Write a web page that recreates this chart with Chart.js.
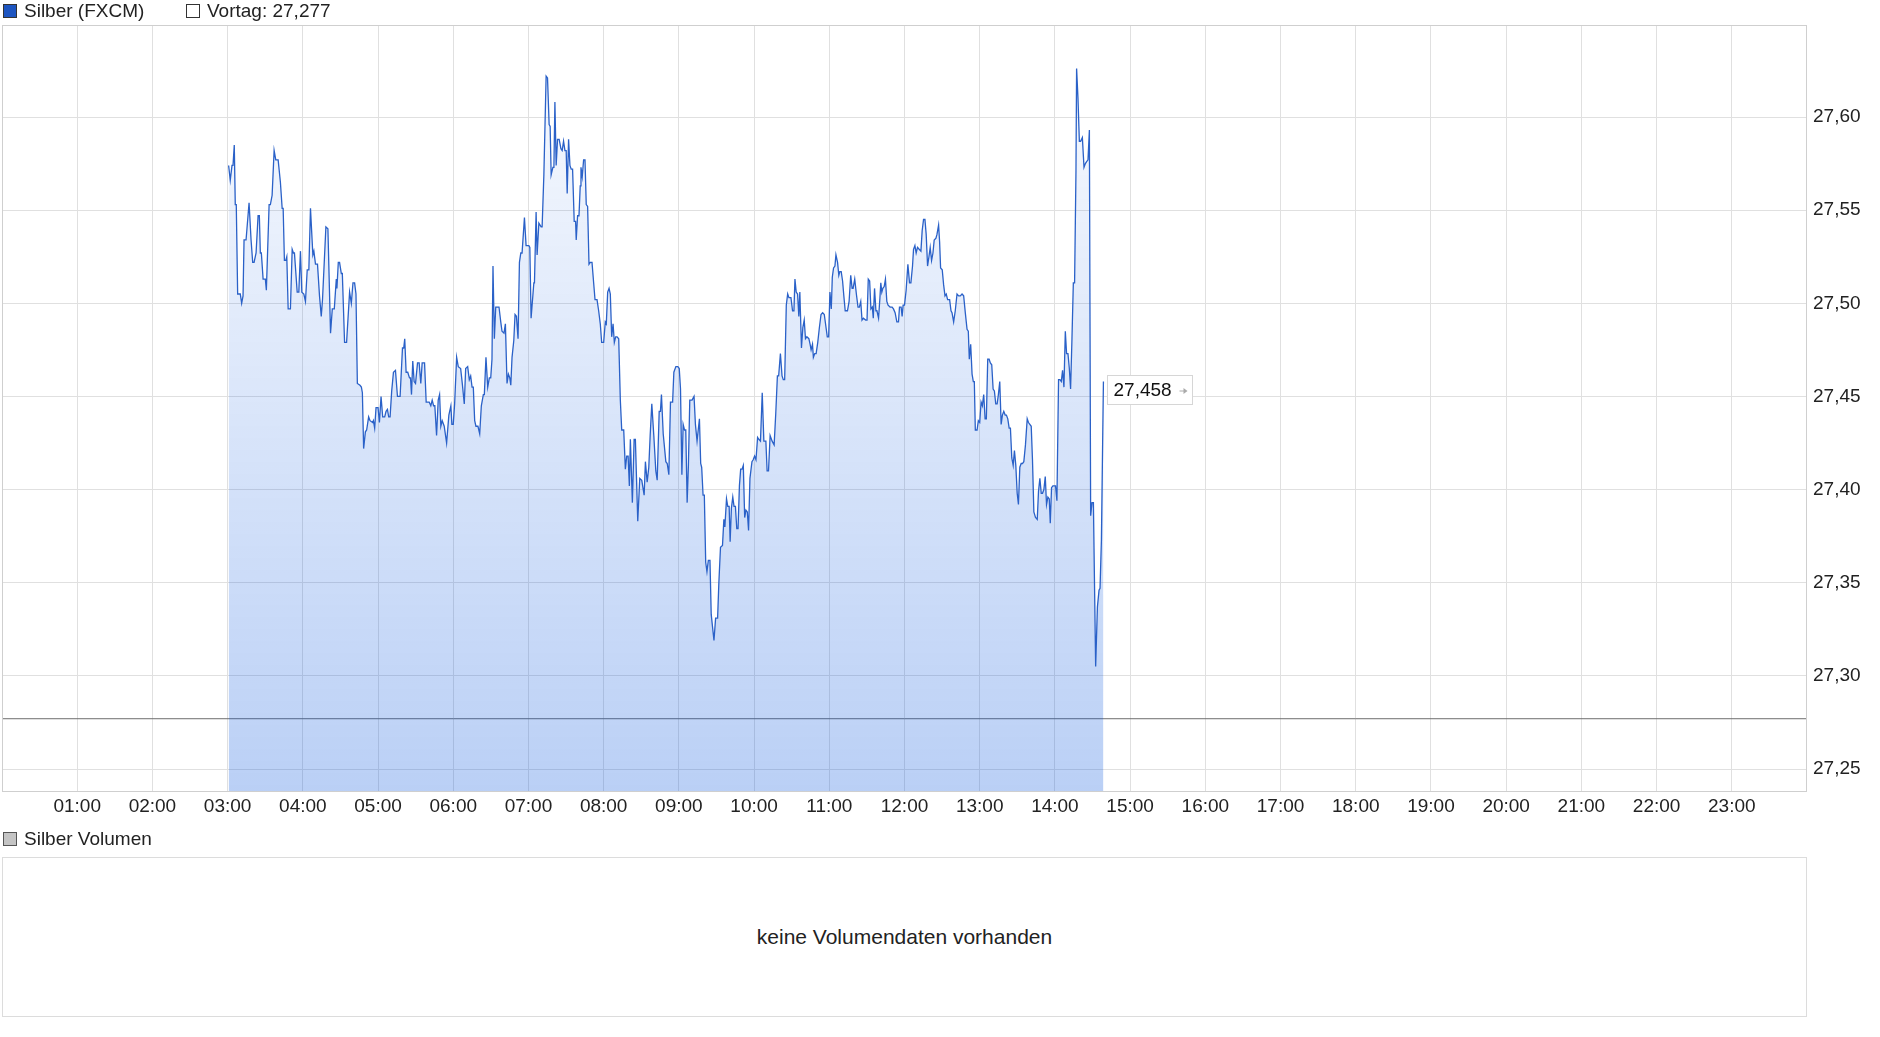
<!DOCTYPE html>
<html>
<head>
<meta charset="utf-8">
<title>Silber (FXCM)</title>
<script src="https://cdn.jsdelivr.net/npm/chart.js@4.4.1/dist/chart.umd.min.js"></script>
<style>
  body { margin: 0; background: #fff; font-family: "Liberation Sans", Arial, sans-serif; color: #222; }
  #wrap { position: relative; width: 1880px; height: 1037px; overflow: hidden; }
  #chartCanvas { position: absolute; left: 0; top: 0; }
  .legend { position: absolute; font-size: 19px; line-height: 22px; white-space: nowrap; }
  .sq { position: absolute; width: 12px; height: 12px; border: 1px solid #333; }
  #volBox { position: absolute; left: 2px; top: 857px; width: 1805px; height: 160px; border: 1px solid #dcdcdc; box-sizing: border-box; }
  #volText { position: absolute; left: 0; right: 0; top: 67px; text-align: center; font-size: 21px; line-height: 24px; }
</style>
</head>
<body>
<div id="wrap">
  <canvas id="chartCanvas" width="1880" height="830"></canvas>

  <div class="sq" style="left:3px; top:4px; background:#1d55c0;"></div>
  <div class="legend" style="left:24px; top:0px;">Silber (FXCM)</div>
  <div class="sq" style="left:186px; top:4px; background:#fff;"></div>
  <div class="legend" style="left:207px; top:0px;">Vortag: 27,277</div>

  <div class="sq" style="left:3px; top:832px; background:#c4c4c4; border-color:#555;"></div>
  <div class="legend" style="left:24px; top:828px;">Silber Volumen</div>
  <div id="volBox"><div id="volText">keine Volumendaten vorhanden</div></div>
</div>

<script>
/********** DATEN **********/
// Zeitpunkte in Minuten seit Mitternacht
const minutes = [
  180.8,182.1,183.5,184.3,185.3,186.1,186.9,188.0,190.1,191.2,192.3,193.1,194.7,197.1,198.7,200.0,201.1,202.7,204.3,205.3,
  206.1,206.9,208.3,210.1,210.9,213.1,214.1,215.5,217.1,218.4,220.3,222.1,223.5,224.3,225.3,226.4,227.2,228.3,230.1,231.5,
  232.5,233.3,235.5,236.8,238.1,239.2,240.8,242.1,243.5,244.8,246.1,248.0,248.8,250.1,251.7,253.3,254.7,255.7,258.4,260.0,
  262.1,263.5,265.1,266.7,267.2,268.3,269.3,270.7,271.5,273.3,274.9,277.3,278.7,280.0,281.3,282.4,283.5,285.6,286.7,287.5,
  288.5,289.9,290.9,292.5,293.6,295.7,296.3,297.3,298.4,300.0,301.1,302.4,303.7,305.3,306.4,307.5,308.5,309.6,310.9,312.3,
  313.9,315.5,317.6,319.5,320.5,321.3,322.4,323.7,325.1,325.9,326.7,327.7,328.8,329.9,331.5,332.8,334.1,335.2,337.1,338.4,
  340.8,342.1,343.2,344.3,345.3,346.7,348.0,349.1,350.1,351.2,352.8,354.7,356.5,358.1,
  358.9,360.0,361.1,362.7,364.0,365.9,367.2,368.8,369.9,371.5,372.8,373.9,375.0,376.0,377.1,378.1,379.7,381.1,382.4,384.0,
  384.8,386.1,387.5,388.8,389.9,390.9,391.7,392.8,393.9,396.5,397.9,398.9,400.5,401.6,402.9,404.0,405.1,405.9,406.9,408.3,
  409.3,410.4,411.7,412.8,413.9,414.9,416.8,418.1,420.3,421.1,422.1,424.3,424.8,426.1,426.9,428.3,430.1,430.9,432.3,434.1,
  435.2,436.5,437.3,438.1,439.5,440.3,441.1,442.1,443.2,444.5,445.9,446.9,448.0,449.1,450.1,450.9,452.0,453.1,454.1,455.2,
  456.5,457.6,458.1,459.2,460.3,461.3,461.9,462.9,464.0,465.1,466.1,467.2,468.3,469.3,470.7,472.0,473.1,474.7,476.0,477.3,
  478.4,480.0,481.3,482.1,483.2,484.3,485.3,486.4,487.5,488.5,489.6,490.7,492.0,493.3,494.4,496.0,497.3,498.4,499.5,500.5,
  501.3,502.9,504.3,505.3,507.2,508.8,510.4,512.3,513.3,514.7,516.0,517.1,518.4,520.0,521.6,522.7,524.3,525.3,526.1,527.5,
  529.6,530.7,532.0,533.3,
  535.0,536.0,537.6,539.2,540.3,541.3,542.4,543.4,544.5,545.5,546.6,547.6,548.7,550.5,552.1,553.2,554.5,556.4,557.4,558.2,
  559.3,560.3,561.4,562.4,563.5,564.8,565.8,568.0,569.3,570.9,571.9,573.2,574.8,575.9,576.7,578.0,579.0,580.1,580.9,581.9,
  583.0,584.0,585.1,586.2,587.2,588.3,589.3,590.4,591.4,592.5,593.5,594.6,595.6,596.7,598.3,599.3,600.4,601.5,602.8,603.8,
  605.1,606.5,607.8,609.4,610.4,611.5,612.8,614.4,616.0,617.3,618.6,619.6,621.0,622.3,623.3,624.4,625.7,626.8,627.8,629.4,
  630.7,631.8,632.6,633.6,634.7,635.7,636.5,637.8,638.9,640.0,641.0,642.1,643.7,644.7,645.5,646.6,647.3,648.4,649.5,650.8,
  652.1,653.4,654.7,656.0,657.4,658.4,659.5,660.5,661.6,662.4,663.4,664.5,665.3,666.6,667.6,668.4,669.5,670.6,671.6,672.7,
  674.5,675.8,677.1,678.2,679.0,680.3,681.6,682.9,684.0,685.1,686.1,687.2,689.0,690.1,691.1,692.2,693.2,694.3,695.1,696.1,
  697.2,698.0,699.3,700.4,701.1,701.9,702.7,703.8,704.8,705.9,706.9,
  708.5,710.1,711.2,712.5,713.9,715.2,716.0,717.3,718.1,718.9,720.0,721.3,722.7,724.0,725.1,726.4,727.2,728.3,729.3,730.4,
  731.7,733.1,734.1,735.2,736.3,737.3,738.4,739.5,740.5,741.6,742.7,743.7,745.1,745.9,747.2,748.0,748.8,750.1,751.2,752.3,
  753.3,754.4,756.0,757.1,757.9,759.2,760.5,761.9,763.2,764.5,765.9,767.2,768.5,769.9,770.9,771.7,772.8,773.9,774.9,775.7,
  776.5,777.9,778.9,780.0,781.1,782.1,783.2,784.3,785.3,786.4,787.5,788.5,789.6,790.7,791.7,792.8,793.9,794.9,796.0,797.1,
  798.1,799.2,800.3,801.3,802.4,803.5,804.5,805.6,806.7,807.7,808.8,809.9,810.9,812.0,813.1,814.1,815.2,816.5,817.9,818.9,
  820.0,821.1,822.1,823.2,824.5,825.9,826.9,828.0,829.1,830.1,831.2,832.3,833.3,834.4,835.5,836.3,837.3,838.4,839.5,840.5,
  841.6,842.9,844.0,845.1,846.1,847.2,848.3,849.3,850.4,851.5,852.5,853.6,854.7,855.7,856.8,857.3,858.4,859.5,860.5,861.9,
  863.2,864.3,865.3,866.4,867.5,868.5,869.6,870.7,871.7,872.5,873.9,875.2,876.0,877.1,878.7
];

// Kurs Silber (FXCM)
const prices = [
  27.574,27.566,27.574,27.574,27.585,27.553,27.553,27.505,27.505,27.500,27.504,27.534,27.534,27.554,27.534,27.522,27.522,27.527,27.547,27.547,
  27.527,27.527,27.513,27.513,27.507,27.553,27.553,27.558,27.582,27.577,27.577,27.565,27.551,27.551,27.523,27.523,27.525,27.497,27.497,27.529,
  27.527,27.527,27.506,27.506,27.528,27.506,27.505,27.501,27.518,27.518,27.551,27.526,27.528,27.521,27.521,27.504,27.493,27.502,27.541,27.540,
  27.484,27.497,27.497,27.513,27.508,27.522,27.522,27.516,27.516,27.479,27.479,27.506,27.500,27.511,27.511,27.505,27.457,27.456,27.455,27.452,
  27.422,27.431,27.432,27.439,27.437,27.436,27.437,27.433,27.444,27.444,27.436,27.450,27.439,27.439,27.442,27.443,27.439,27.439,27.453,27.463,
  27.464,27.450,27.450,27.476,27.476,27.481,27.463,27.463,27.460,27.460,27.451,27.469,27.458,27.457,27.468,27.468,27.457,27.468,27.468,27.447,
  27.447,27.445,27.448,27.445,27.445,27.429,27.448,27.451,27.434,27.437,27.434,27.425,27.440,27.445,
  27.435,27.435,27.446,27.471,27.466,27.465,27.457,27.446,27.465,27.466,27.459,27.461,27.455,27.455,27.437,27.434,27.434,27.430,27.445,27.451,
  27.451,27.471,27.455,27.460,27.460,27.470,27.520,27.481,27.498,27.498,27.490,27.485,27.484,27.489,27.457,27.462,27.460,27.456,27.471,27.480,
  27.494,27.493,27.481,27.522,27.527,27.527,27.546,27.531,27.531,27.530,27.492,27.511,27.511,27.549,27.526,27.543,27.541,27.541,27.569,27.622,
  27.621,27.596,27.595,27.569,27.573,27.573,27.608,27.574,27.588,27.588,27.583,27.582,27.587,27.582,27.582,27.559,27.588,27.574,27.572,27.572,
  27.544,27.544,27.534,27.547,27.547,27.563,27.573,27.568,27.577,27.577,27.553,27.552,27.521,27.522,27.522,27.511,27.502,27.502,27.496,27.489,
  27.479,27.479,27.490,27.489,27.506,27.508,27.505,27.482,27.489,27.479,27.482,27.482,27.481,27.448,27.432,27.432,27.411,27.418,27.418,27.402,
  27.427,27.393,27.427,27.427,27.383,27.406,27.405,27.397,27.415,27.404,27.412,27.429,27.446,27.429,27.410,27.405,27.442,27.442,27.451,27.430,
  27.415,27.414,27.408,27.447,
  27.447,27.463,27.466,27.466,27.465,27.454,27.408,27.435,27.432,27.432,27.393,27.413,27.448,27.448,27.450,27.435,27.426,27.438,27.414,27.412,
  27.397,27.397,27.361,27.356,27.362,27.362,27.333,27.319,27.331,27.331,27.350,27.369,27.370,27.384,27.380,27.395,27.391,27.391,27.372,27.390,
  27.396,27.391,27.391,27.379,27.379,27.402,27.411,27.411,27.413,27.385,27.389,27.388,27.378,27.406,27.415,27.416,27.418,27.416,27.428,27.427,
  27.426,27.452,27.426,27.426,27.410,27.410,27.429,27.426,27.424,27.441,27.461,27.461,27.473,27.461,27.459,27.459,27.499,27.505,27.503,27.503,
  27.496,27.496,27.513,27.506,27.505,27.493,27.506,27.476,27.487,27.491,27.481,27.482,27.481,27.478,27.475,27.478,27.471,27.473,27.473,27.479,
  27.487,27.494,27.495,27.494,27.487,27.482,27.482,27.506,27.497,27.514,27.519,27.520,27.526,27.522,27.515,27.517,27.517,27.512,27.504,27.496,
  27.496,27.501,27.515,27.508,27.508,27.513,27.505,27.498,27.498,27.501,27.491,27.492,27.491,27.491,27.513,27.512,27.497,27.498,27.492,27.508,
  27.496,27.496,27.492,27.503,27.511,27.506,27.508,27.509,27.513,27.501,27.499,
  27.498,27.498,27.497,27.495,27.490,27.490,27.498,27.498,27.493,27.499,27.499,27.507,27.521,27.511,27.511,27.520,27.529,27.531,27.527,27.530,
  27.529,27.528,27.539,27.545,27.545,27.537,27.520,27.525,27.530,27.523,27.527,27.534,27.535,27.537,27.542,27.533,27.519,27.518,27.510,27.504,
  27.505,27.502,27.502,27.496,27.495,27.490,27.496,27.505,27.504,27.504,27.505,27.504,27.495,27.486,27.485,27.470,27.478,27.462,27.458,27.458,
  27.432,27.432,27.437,27.436,27.447,27.445,27.451,27.438,27.438,27.470,27.470,27.468,27.467,27.454,27.453,27.446,27.446,27.451,27.458,27.435,
  27.440,27.442,27.440,27.440,27.438,27.433,27.433,27.417,27.413,27.421,27.413,27.398,27.392,27.412,27.414,27.414,27.415,27.424,27.438,27.436,
  27.435,27.434,27.416,27.388,27.385,27.384,27.399,27.406,27.398,27.398,27.400,27.407,27.392,27.396,27.395,27.382,27.401,27.402,27.402,27.402,
  27.394,27.459,27.459,27.458,27.464,27.455,27.485,27.473,27.473,27.465,27.454,27.481,27.511,27.511,27.571,27.626,27.610,27.587,27.587,27.589,
  27.573,27.575,27.576,27.577,27.593,27.386,27.393,27.393,27.344,27.305,27.337,27.346,27.347,27.373,27.458
];

const vortag = 27.277;
const hourTicks = [1,2,3,4,5,6,7,8,9,10,11,12,13,14,15,16,17,18,19,20,21,22,23];
const priceTicks = [27.25,27.30,27.35,27.40,27.45,27.50,27.55,27.60];

/********** HILFSFUNKTIONEN **********/
const fmtPrice = (v, d) => v.toFixed(d).replace('.', ',');
const fmtHour = h => String(h).padStart(2, '0') + ':00';

const series = minutes.map((m, i) => ({ x: m / 60, y: prices[i] }));
const X_MAX = 24;

Chart.defaults.font.family = '"Liberation Sans", Arial, sans-serif';
Chart.defaults.font.size = 19;
Chart.defaults.color = '#222';

// Rahmen um die Zeichenfläche
const frame = {
  id: 'frame',
  afterDraw(chart) {
    const a = chart.chartArea, c = chart.ctx;
    c.save();
    c.strokeStyle = '#cfcfcf';
    c.lineWidth = 1;
    c.strokeRect(Math.round(a.left) + 0.5, Math.round(a.top) + 0.5,
                 Math.round(a.right - a.left) - 1, Math.round(a.bottom - a.top));
    c.restore();
  }
};

// Kästchen mit letztem Kurs
const lastLabel = {
  id: 'lastLabel',
  afterDatasetsDraw(chart) {
    const xs = chart.scales.x, ys = chart.scales.y, c = chart.ctx;
    const last = series[series.length - 1];
    const px = xs.getPixelForValue(last.x), py = ys.getPixelForValue(last.y);
    const bx = Math.round(px) + 4.5, by = Math.round(py) - 6.5, bw = 85, bh = 29;
    c.save();
    c.fillStyle = '#fff';
    c.fillRect(bx, by, bw, bh);
    c.strokeStyle = '#d6d6d6';
    c.lineWidth = 1;
    c.strokeRect(bx, by, bw, bh);
    c.fillStyle = '#111';
    c.font = '19px "Liberation Sans", Arial, sans-serif';
    c.textBaseline = 'middle';
    c.fillText(fmtPrice(last.y, 3), bx + 6, by + bh / 2 + 1);
    // kleiner Pfeil
    const ax = bx + 72, ay = by + bh / 2 + 1;
    c.strokeStyle = '#aaa';
    c.fillStyle = '#aaa';
    c.beginPath(); c.moveTo(ax, ay); c.lineTo(ax + 5, ay); c.stroke();
    c.beginPath(); c.moveTo(ax + 8, ay); c.lineTo(ax + 4, ay - 3); c.lineTo(ax + 4, ay + 3); c.closePath(); c.fill();
    c.restore();
  }
};

/********** CHART **********/
const ctx = document.getElementById('chartCanvas').getContext('2d');
new Chart(ctx, {
  type: 'line',
  data: {
    datasets: [
      {
        label: 'Silber (FXCM)',
        data: series,
        borderColor: '#2a61c8',
        borderWidth: 1.3,
        pointRadius: 0,
        tension: 0,
        fill: 'start',
        backgroundColor: (context) => {
          const area = context.chart.chartArea;
          if (!area) return 'rgba(0,80,220,0.12)';
          const g = context.chart.ctx.createLinearGradient(0, area.top, 0, area.bottom);
          g.addColorStop(0, 'rgba(0,80,220,0.02)');
          g.addColorStop(1, 'rgba(0,80,220,0.27)');
          return g;
        }
      },
      {
        label: 'Vortag',
        data: [{ x: 0, y: vortag }, { x: X_MAX, y: vortag }],
        borderColor: '#6e6e6e',
        borderWidth: 1,
        pointRadius: 0,
        fill: false
      }
    ]
  },
  options: {
    responsive: false,
    animation: false,
    parsing: false,
    events: [],
    layout: { padding: { left: 2, top: 25, right: 0, bottom: 0 } },
    plugins: { legend: { display: false }, tooltip: { enabled: false } },
    scales: {
      x: {
        type: 'linear',
        min: 0,
        max: X_MAX,
        afterFit: s => { s.height = 39; },
        afterBuildTicks: s => { s.ticks = hourTicks.map(v => ({ value: v })); },
        grid: { color: '#e0e0e0', drawTicks: false },
        border: { display: false },
        ticks: { callback: v => fmtHour(v), padding: 4, maxRotation: 0, autoSkip: false, color: '#222' }
      },
      y: {
        type: 'linear',
        position: 'right',
        min: 27.2382,
        max: 27.6494,
        afterFit: s => { s.width = 73; },
        afterBuildTicks: s => { s.ticks = priceTicks.map(v => ({ value: v })); },
        grid: { color: '#e0e0e0', drawTicks: false },
        border: { display: false },
        ticks: { callback: v => fmtPrice(v, 2), padding: 6, color: '#222' }
      }
    }
  },
  plugins: [frame, lastLabel]
});
</script>
</body>
</html>
